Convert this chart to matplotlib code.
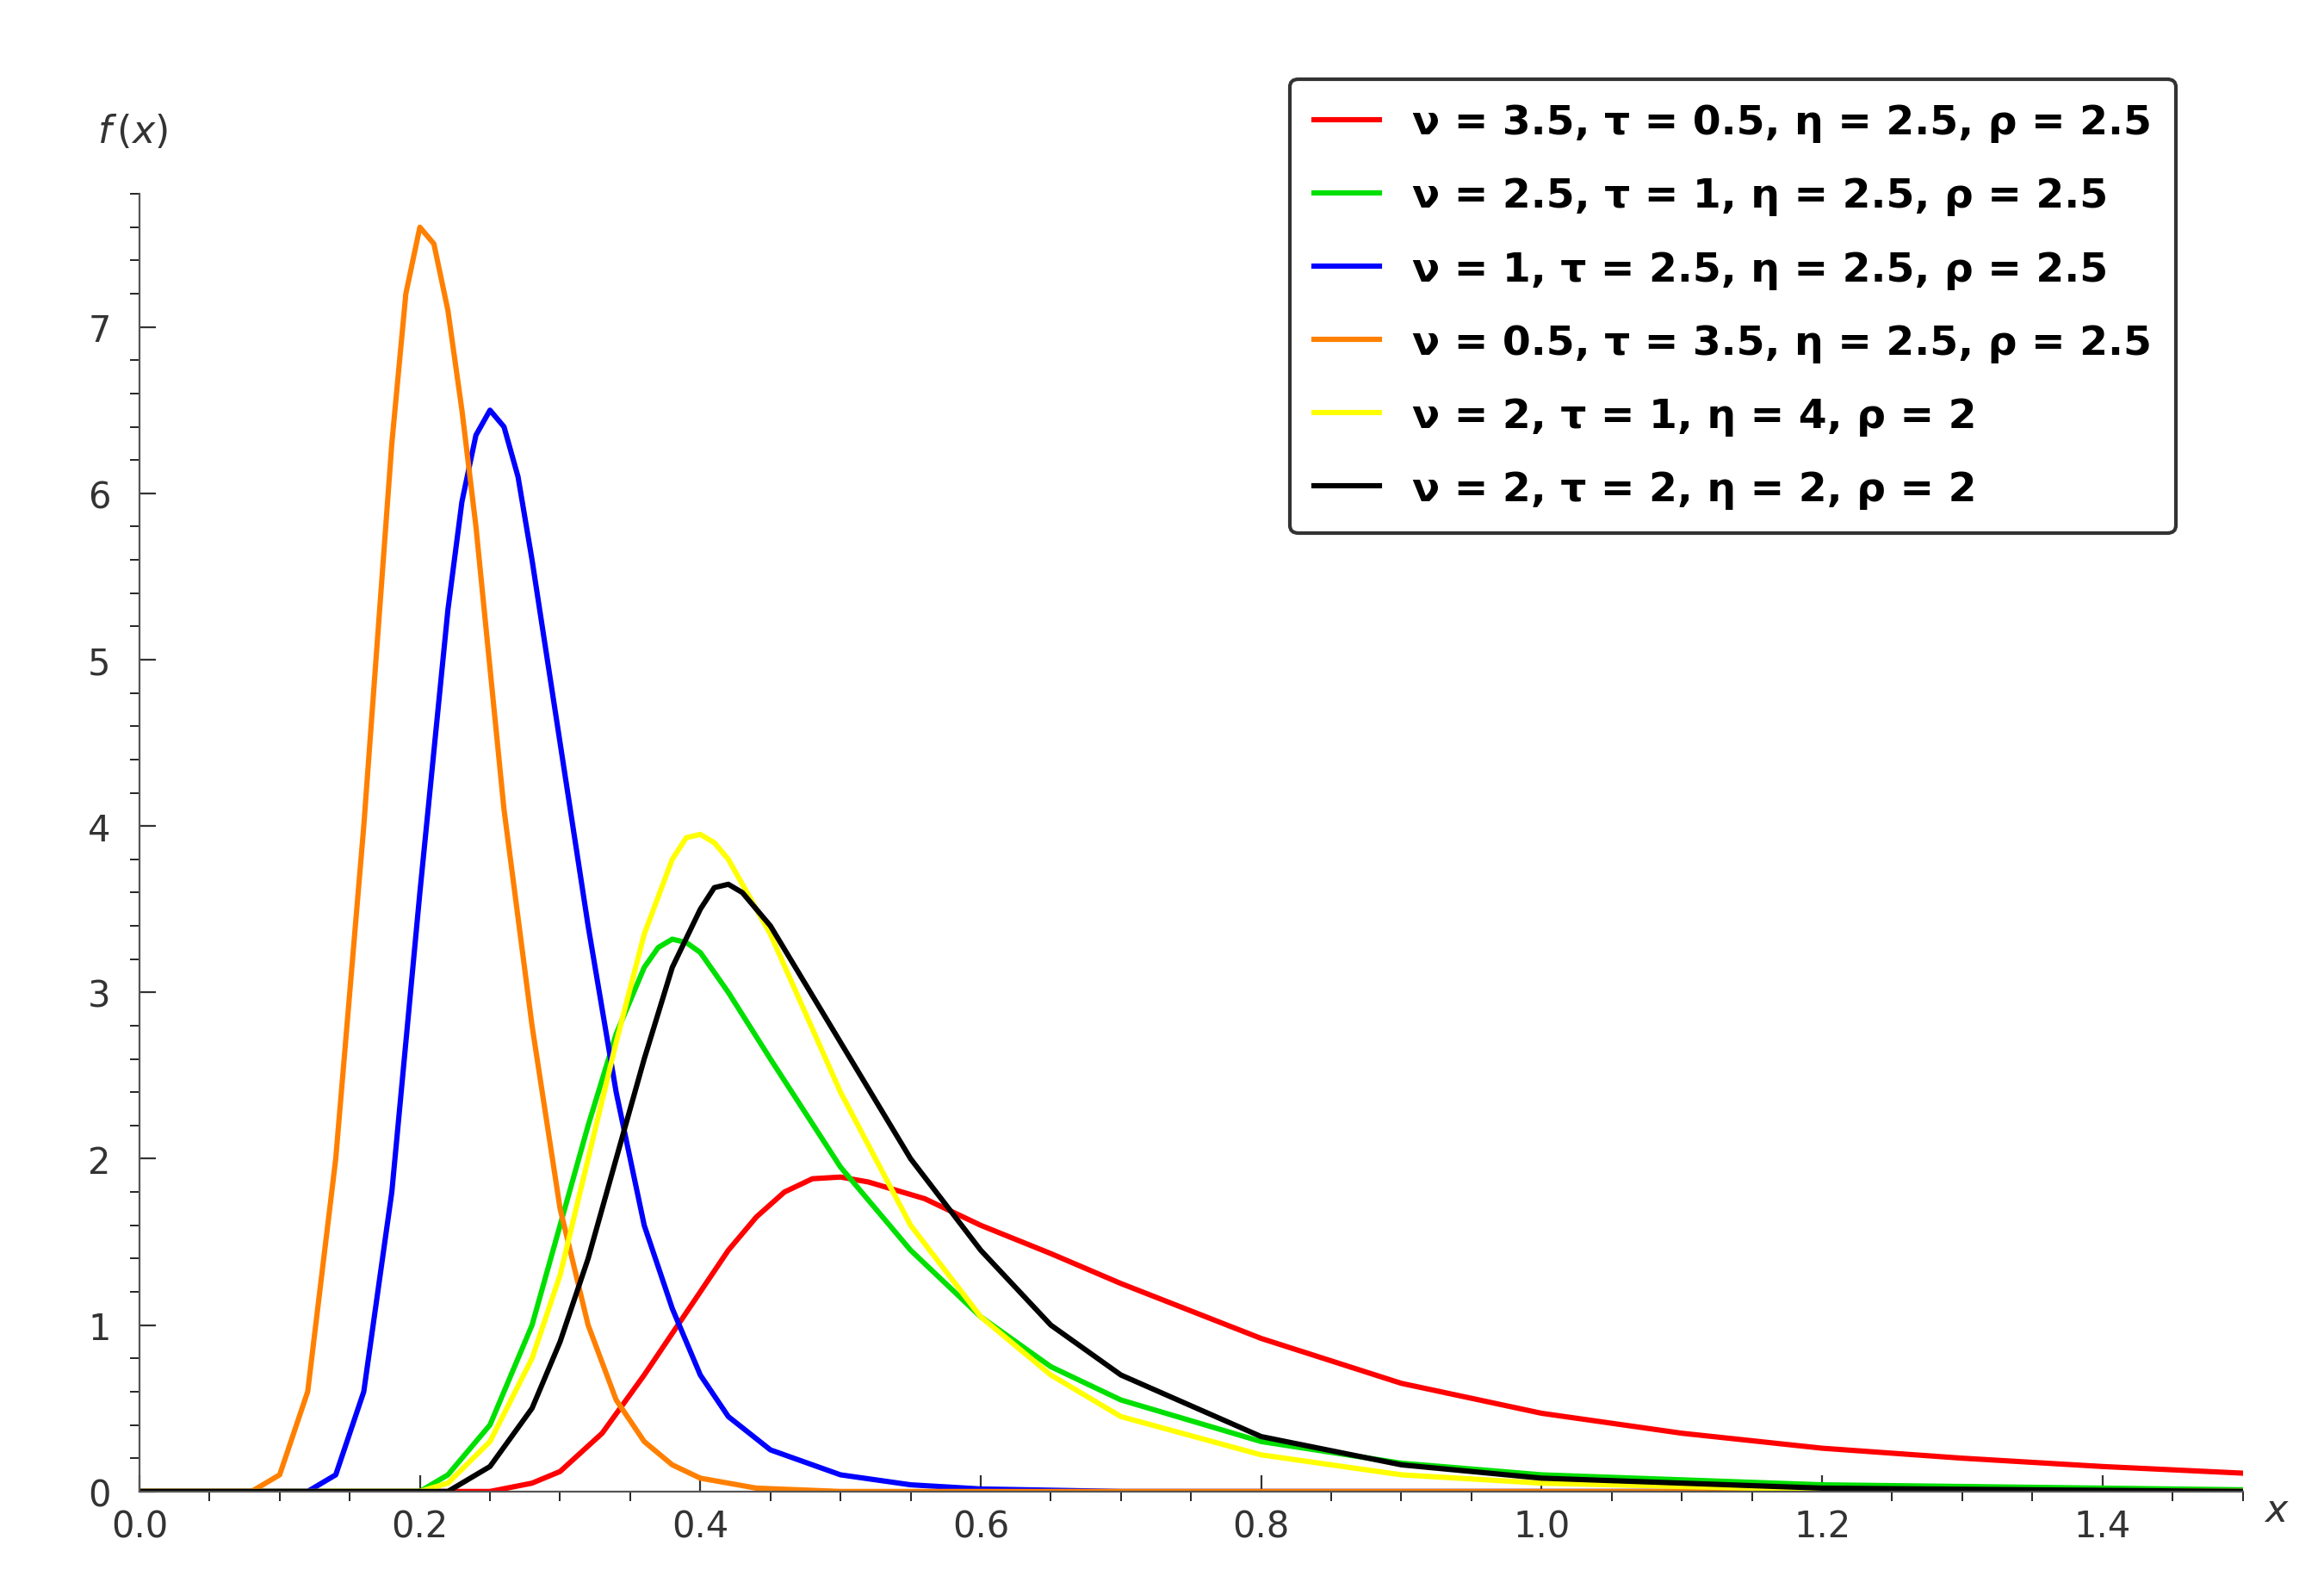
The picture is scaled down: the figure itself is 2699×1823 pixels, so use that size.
import matplotlib
matplotlib.use("Agg")
import matplotlib.pyplot as plt
from matplotlib.ticker import MultipleLocator

labels = ["ν = 3.5, τ = 0.5, η = 2.5, ρ = 2.5",
          "ν = 2.5, τ = 1, η = 2.5, ρ = 2.5",
          "ν = 1, τ = 2.5, η = 2.5, ρ = 2.5",
          "ν = 0.5, τ = 3.5, η = 2.5, ρ = 2.5",
          "ν = 2, τ = 1, η = 4, ρ = 2",
          "ν = 2, τ = 2, η = 2, ρ = 2"]
colors = ["#ff0000", "#00e000", "#0000ff", "#ff8000", "#ffff00", "#000000"]

red_x = [0, 0.25, 0.28, 0.30, 0.33, 0.36, 0.40, 0.42, 0.44, 0.46, 0.48, 0.50, 0.52, 0.56, 0.6, 0.65, 0.7, 0.8, 0.9, 1.0, 1.1, 1.2, 1.3, 1.4, 1.5]
red_y = [0, 0, 0.05, 0.12, 0.35, 0.7, 1.2, 1.45, 1.65, 1.8, 1.88, 1.89, 1.86, 1.76, 1.6, 1.43, 1.25, 0.92, 0.65, 0.47, 0.35, 0.26, 0.2, 0.15, 0.11]
green_x = [0, 0.2, 0.22, 0.25, 0.28, 0.30, 0.32, 0.34, 0.36, 0.37, 0.38, 0.39, 0.40, 0.42, 0.45, 0.5, 0.55, 0.6, 0.65, 0.7, 0.8, 0.9, 1.0, 1.2, 1.5]
green_y = [0, 0, 0.1, 0.4, 1.0, 1.6, 2.2, 2.75, 3.15, 3.27, 3.32, 3.3, 3.24, 3.0, 2.6, 1.95, 1.45, 1.05, 0.75, 0.55, 0.3, 0.17, 0.1, 0.04, 0.01]
blue_x = [0, 0.12, 0.14, 0.16, 0.18, 0.20, 0.22, 0.23, 0.24, 0.25, 0.26, 0.27, 0.28, 0.30, 0.32, 0.34, 0.36, 0.38, 0.40, 0.42, 0.45, 0.5, 0.55, 0.6, 0.7, 1.5]
blue_y = [0, 0, 0.1, 0.6, 1.8, 3.6, 5.3, 5.95, 6.35, 6.5, 6.4, 6.1, 5.6, 4.5, 3.4, 2.4, 1.6, 1.1, 0.7, 0.45, 0.25, 0.1, 0.04, 0.015, 0, 0]
orange_x = [0, 0.08, 0.10, 0.12, 0.14, 0.16, 0.18, 0.19, 0.2, 0.21, 0.22, 0.23, 0.24, 0.26, 0.28, 0.30, 0.32, 0.34, 0.36, 0.38, 0.40, 0.44, 0.5, 1.5]
orange_y = [0, 0, 0.1, 0.6, 2.0, 4.0, 6.3, 7.2, 7.6, 7.5, 7.1, 6.5, 5.8, 4.1, 2.8, 1.7, 1.0, 0.55, 0.3, 0.16, 0.08, 0.02, 0, 0]
yellow_x = [0, 0.2, 0.22, 0.25, 0.28, 0.30, 0.32, 0.34, 0.36, 0.38, 0.39, 0.40, 0.41, 0.42, 0.45, 0.5, 0.55, 0.6, 0.65, 0.7, 0.8, 0.9, 1.0, 1.2, 1.5]
yellow_y = [0, 0, 0.05, 0.3, 0.8, 1.3, 2.0, 2.7, 3.35, 3.8, 3.93, 3.95, 3.9, 3.8, 3.35, 2.4, 1.6, 1.05, 0.7, 0.45, 0.22, 0.1, 0.05, 0.01, 0]
black_x = [0, 0.22, 0.25, 0.28, 0.30, 0.32, 0.34, 0.36, 0.38, 0.40, 0.41, 0.42, 0.43, 0.45, 0.5, 0.55, 0.6, 0.65, 0.7, 0.8, 0.9, 1.0, 1.2, 1.5]
black_y = [0, 0, 0.15, 0.5, 0.9, 1.4, 2.0, 2.6, 3.15, 3.5, 3.63, 3.65, 3.6, 3.4, 2.7, 2.0, 1.45, 1.0, 0.7, 0.33, 0.16, 0.08, 0.02, 0]

series = [(red_x, red_y), (green_x, green_y), (blue_x, blue_y),
          (orange_x, orange_y), (yellow_x, yellow_y), (black_x, black_y)]

fig = plt.figure(figsize=(13.495, 9.12), dpi=200)
ax = fig.add_axes([0.06, 0.05, 0.905, 0.826])
for (xs, ys), c, l in zip(series, colors, labels):
    ax.plot(xs, ys, color=c, lw=2.2, label=l, solid_joinstyle="round")

ax.set_xlim(0, 1.5)
ax.set_ylim(0, 7.8)
for s in ["top", "right"]:
    ax.spines[s].set_visible(False)
ax.spines["left"].set_color("#555555")
ax.spines["bottom"].set_color("#555555")
ax.xaxis.set_major_locator(MultipleLocator(0.2))
ax.xaxis.set_minor_locator(MultipleLocator(0.05))
ax.yaxis.set_major_locator(MultipleLocator(1))
ax.yaxis.set_minor_locator(MultipleLocator(0.2))
ax.xaxis.set_major_formatter(matplotlib.ticker.FormatStrFormatter("%.1f"))
ax.tick_params(labelsize=15, colors="#333333", direction="in")
ax.tick_params(axis="y", pad=12)
ax.tick_params(axis="x", pad=7)
ax.tick_params(which="major", length=7)
ax.tick_params(which="minor", length=4)
ax.text(-0.02, 1.04, "$f\\,(x)$", transform=ax.transAxes, fontsize=16, color="#333333")
ax.text(1.01, 0.0, "$x$", transform=ax.transAxes, fontsize=16, color="#333333", va="top")

leg = fig.legend(loc="upper right", bbox_to_anchor=(0.945, 0.962),
                 prop={"weight": "bold", "size": 17}, frameon=True, fancybox=True,
                 edgecolor="black", handlelength=1.6, labelspacing=0.85, borderpad=0.6)
leg.get_frame().set_linewidth(1.5)
fig.savefig("out.png", dpi=200)
